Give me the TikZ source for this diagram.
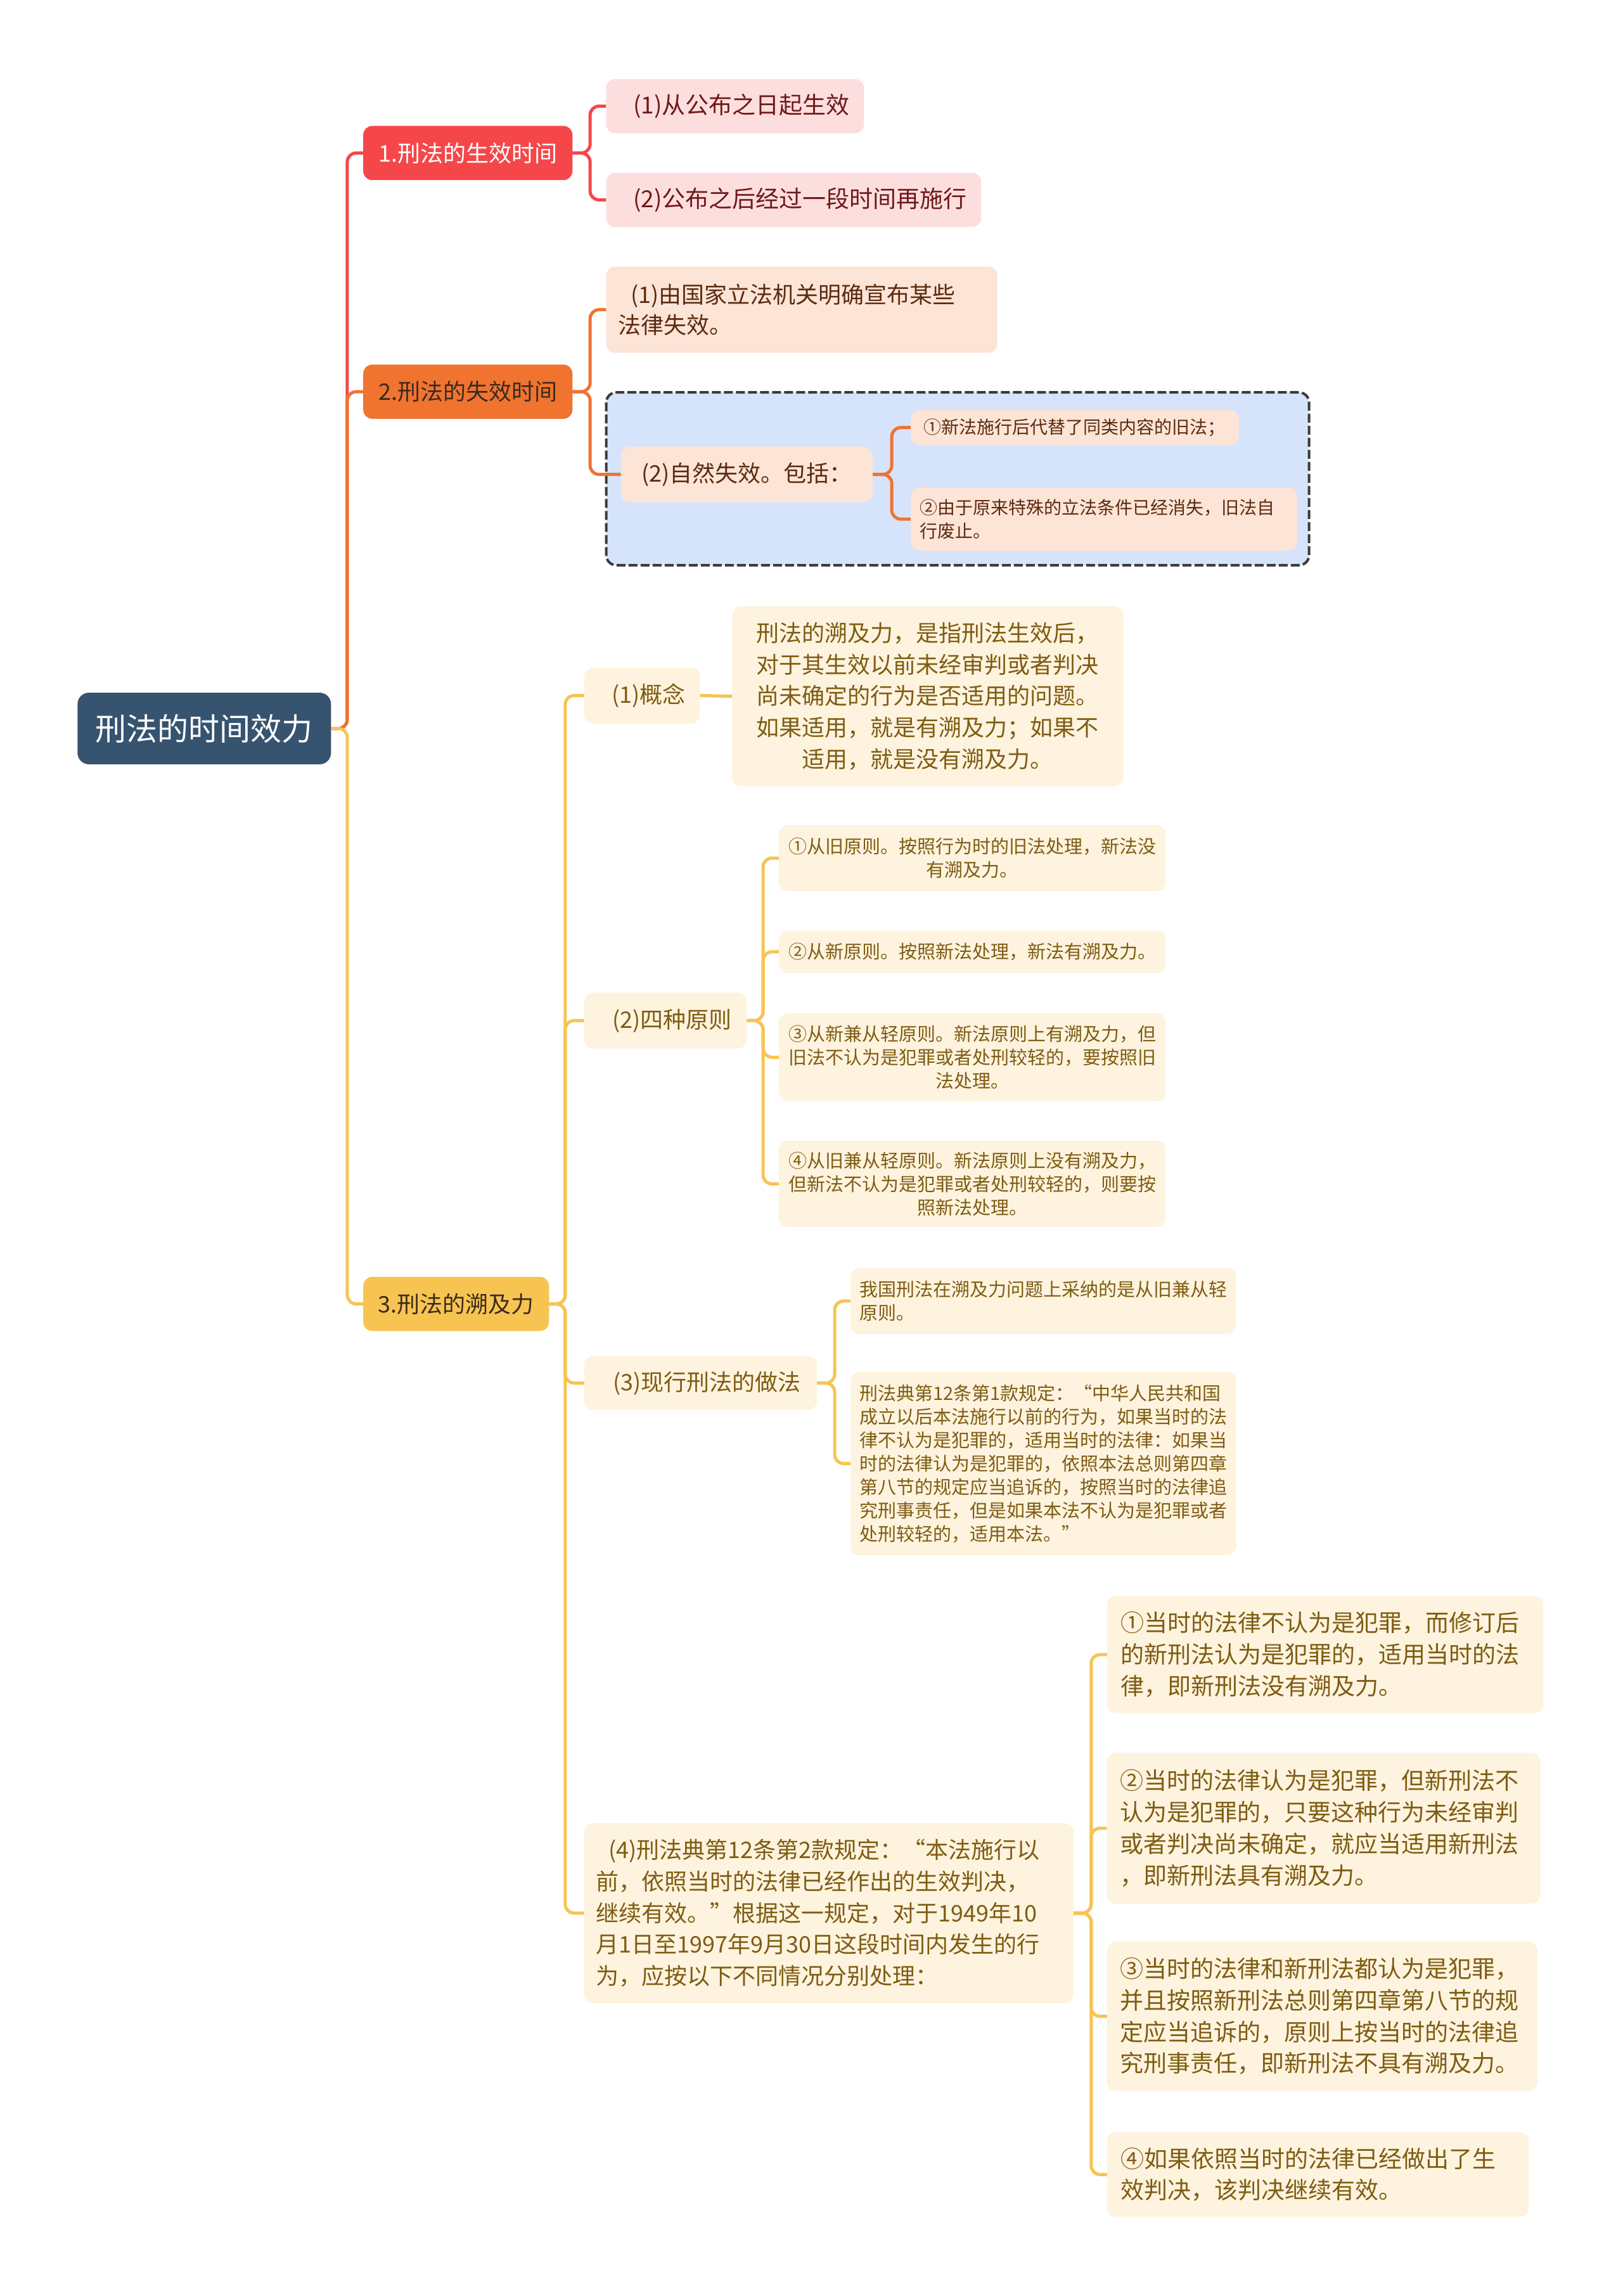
\documentclass[tikz,border=0pt]{standalone}
\usepackage{fontspec}
\setmainfont{Noto Sans CJK SC}
\usepackage{tikz}
\definecolor{rootblue}{HTML}{36536F}
\definecolor{topicred}{HTML}{F5474A}
\definecolor{topicorange}{HTML}{F07330}
\definecolor{topicyellow}{HTML}{F7C452}
\definecolor{pinkfill}{HTML}{FDDEDE}
\definecolor{pinktext}{HTML}{701818}
\definecolor{peachfill}{HTML}{FCE4D6}
\definecolor{peachtext}{HTML}{5C2B10}
\definecolor{creamfill}{HTML}{FDF3DE}
\definecolor{creamtext}{HTML}{7F5C12}
\definecolor{groupblue}{HTML}{D6E4FB}
\definecolor{groupline}{HTML}{3A3A3A}
\definecolor{darktopic}{HTML}{3B2A1E}
\newcommand{\xmgap}{\hspace*{20pt}}

\begin{document}
\begin{tikzpicture}[x=2.3105pt,y=-2.3105pt,
  box/.style={rounded corners=14pt,inner sep=0pt,align=center},
  rootbox/.style={box,rounded corners=18pt,fill=rootblue,text=white,
    font=\fontsize{49}{60}\selectfont},
  topic/.style={box,minimum height=85.5pt,font=\fontsize{36}{46}\selectfont},
  pinkleaf/.style={box,fill=pinkfill,text=pinktext,font=\fontsize{37}{48.5}\selectfont},
  peachleaf/.style={box,fill=peachfill,text=peachtext,font=\fontsize{36}{48.5}\selectfont},
  peachsmall/.style={box,fill=peachfill,text=peachtext,font=\fontsize{28}{37}\selectfont},
  creamleaf/.style={box,fill=creamfill,text=creamtext,font=\fontsize{36}{49.7}\selectfont},
  creamsmall/.style={box,fill=creamfill,text=creamtext,font=\fontsize{29}{37}\selectfont},
  creamwide/.style={box,fill=creamfill,text=creamtext,font=\fontsize{37}{49.7}\selectfont},
  link/.style={line width=5pt,rounded corners=14pt},
  redlink/.style={link,draw=topicred},
  orangelink/.style={link,draw=topicorange},
  yellowlink/.style={link,draw=topicyellow}]
  \useasboundingbox (0,0) rectangle (1108,1568);
  \fill[white] (0,0) rectangle (1108,1568);

  % frame round the natural lapse branch
  \draw[groupline,fill=groupblue,line width=4pt,dash pattern=on 14pt off 5pt,
    rounded corners=16pt] (414,268) rectangle (894,386);

  \node[rootbox,minimum width=400pt,minimum height=113pt] (root) at (139.5,497.5) {刑法的时间效力};

  \node[topic,fill=topicred,text=white,minimum width=330pt] (eff) at (319.5,104.5) {1.刑法的生效时间};
  \node[topic,fill=topicorange,text=darktopic,minimum width=330pt] (lapse) at (319.5,267.5) {2.刑法的失效时间};
  \node[topic,fill=topicyellow,text=darktopic,minimum width=293pt] (retro) at (311.5,890.5) {3.刑法的溯及力};

  \node[pinkleaf,minimum width=407pt,minimum height=85.5pt] (effA) at (502,72.5) {\xmgap(1)从公布之日起生效};
  \node[pinkleaf,minimum width=591.5pt,minimum height=85.5pt] (effB) at (542,136.5) {\xmgap(2)公布之后经过一段时间再施行};

  \node[peachleaf,text width=580pt,inner xsep=18.5pt,minimum height=136pt,align=left] (lapseA) at (547.5,211.5)
    {\xmgap(1)由国家立法机关明确宣布某些\\法律失效。};
  \node[peachleaf,minimum width=397pt,minimum height=88pt] (lapseB) at (510,324) {(2)自然失效。包括：};
  \node[peachsmall,minimum width=517.5pt,minimum height=55.5pt] (lapseB1) at (734,292) {①新法施行后代替了同类内容的旧法；};
  \node[peachsmall,text width=582pt,inner xsep=14pt,minimum height=99.4pt,align=left] (lapseB2) at (754,354.5)
    {②由于原来特殊的立法条件已经消失，旧法自\\行废止。};

  \node[creamleaf,minimum width=182.5pt,minimum height=88pt] (concept) at (438.5,475) {\xmgap(1)概念};
  \node[creamleaf,text width=570pt,inner xsep=23.5pt,minimum height=284pt] (conceptT) at (633.5,475.5)
    {刑法的溯及力，是指刑法生效后，\\对于其生效以前未经审判或者判决\\尚未确定的行为是否适用的问题。\\如果适用，就是有溯及力；如果不\\适用，就是没有溯及力。};

  \node[creamleaf,minimum width=256.5pt,minimum height=88pt] (rules) at (454.5,697) {\xmgap(2)四种原则};
  \node[creamsmall,text width=584pt,inner xsep=13pt,minimum height=104pt] (rule1) at (664,586)
    {①从旧原则。按照行为时的旧法处理，新法没\\有溯及力。};
  \node[creamsmall,text width=584pt,inner xsep=13pt,minimum height=67pt] (rule2) at (664,650)
    {②从新原则。按照新法处理，新法有溯及力。};
  \node[creamsmall,text width=584pt,inner xsep=13pt,minimum height=138.6pt] (rule3) at (664,722)
    {③从新兼从轻原则。新法原则上有溯及力，但\\旧法不认为是犯罪或者处刑较轻的，要按照旧\\法处理。};
  \node[creamsmall,text width=584pt,inner xsep=13pt,minimum height=136pt] (rule4) at (664,808.5)
    {④从旧兼从轻原则。新法原则上没有溯及力，\\但新法不认为是犯罪或者处刑较轻的，则要按\\照新法处理。};

  \node[creamleaf,minimum width=367pt,minimum height=85.5pt] (current) at (478.5,944.5) {\xmgap(3)现行刑法的做法};
  \node[creamsmall,text width=580pt,inner xsep=14pt,minimum height=104pt,align=left] (currentA) at (712.5,888.5)
    {我国刑法在溯及力问题上采纳的是从旧兼从轻\\原则。};
  \node[creamsmall,text width=580pt,inner xsep=14pt,minimum height=289pt,align=left] (currentB) at (712.5,999.5)
    {刑法典第12条第1款规定：“中华人民共和国\\成立以后本法施行以前的行为，如果当时的法\\律不认为是犯罪的，适用当时的法律：如果当\\时的法律认为是犯罪的，依照本法总则第四章\\第八节的规定应当追诉的，按照当时的法律追\\究刑事责任，但是如果本法不认为是犯罪或者\\处刑较轻的，适用本法。”};

  \node[creamleaf,text width=735pt,inner xsep=18.5pt,minimum height=284pt,align=left] (article) at (566,1306.5)
    {\xmgap(4)刑法典第12条第2款规定：“本法施行以\\前，依照当时的法律已经作出的生效判决，\\继续有效。”根据这一规定，对于1949年10\\月1日至1997年9月30日这段时间内发生的行\\为，应按以下不同情况分别处理：};

  \node[creamwide,text width=646pt,inner xsep=21pt,minimum height=185pt,align=left] (caseA) at (905,1130)
    {①当时的法律不认为是犯罪，而修订后\\的新刑法认为是犯罪的，适用当时的法\\律，即新刑法没有溯及力。};
  \node[creamwide,text width=642pt,inner xsep=21pt,minimum height=238pt,align=left] (caseB) at (904,1248.5)
    {②当时的法律认为是犯罪，但新刑法不\\认为是犯罪的，只要这种行为未经审判\\或者判决尚未确定，就应当适用新刑法\\，即新刑法具有溯及力。};
  \node[creamwide,text width=637pt,inner xsep=21pt,minimum height=236pt,align=left] (caseC) at (903,1377)
    {③当时的法律和新刑法都认为是犯罪，\\并且按照新刑法总则第四章第八节的规\\定应当追诉的，原则上按当时的法律追\\究刑事责任，即新刑法不具有溯及力。};
  \node[creamwide,text width=623pt,inner xsep=21pt,minimum height=134pt,align=left] (caseD) at (900,1485)
    {④如果依照当时的法律已经做出了生\\效判决，该判决继续有效。};

  % trunk
  \draw[redlink] (root.east) -- ++(11,0) |- (eff.west);
  \draw[orangelink] (root.east) -- ++(11,0) |- (lapse.west);
  \draw[yellowlink] (root.east) -- ++(11,0) |- (retro.west);

  \draw[redlink] (eff.east) -- ++(12,0) |- (effA.west);
  \draw[redlink] (eff.east) -- ++(12,0) |- (effB.west);

  \draw[orangelink] (lapse.east) -- ++(12,0) |- (lapseA.west);
  \draw[orangelink] (lapse.east) -- ++(12,0) |- (lapseB.west);
  \draw[orangelink] (lapseB.east) -- ++(13,0) |- (lapseB1.west);
  \draw[orangelink] (lapseB.east) -- ++(13,0) |- (lapseB2.west);

  \draw[yellowlink] (retro.east) -- ++(11,0) |- (concept.west);
  \draw[yellowlink] (retro.east) -- ++(11,0) |- (rules.west);
  \draw[yellowlink] (retro.east) -- ++(11,0) |- (current.west);
  \draw[yellowlink] (retro.east) -- ++(11,0) |- (article.west);
  \draw[yellowlink] (concept.east) -- (conceptT.west);

  \draw[yellowlink] (rules.east) -- ++(11,0) |- (rule1.west);
  \draw[yellowlink] (rules.east) -- ++(11,0) |- (rule2.west);
  \draw[yellowlink] (rules.east) -- ++(11,0) |- (rule3.west);
  \draw[yellowlink] (rules.east) -- ++(11,0) |- (rule4.west);

  \draw[yellowlink] (current.east) -- ++(12,0) |- (currentA.west);
  \draw[yellowlink] (current.east) -- ++(12,0) |- (currentB.west);

  \draw[yellowlink] (article.east) -- ++(12,0) |- (caseA.west);
  \draw[yellowlink] (article.east) -- ++(12,0) |- (caseB.west);
  \draw[yellowlink] (article.east) -- ++(12,0) |- (caseC.west);
  \draw[yellowlink] (article.east) -- ++(12,0) |- (caseD.west);
\end{tikzpicture}
\end{document}
